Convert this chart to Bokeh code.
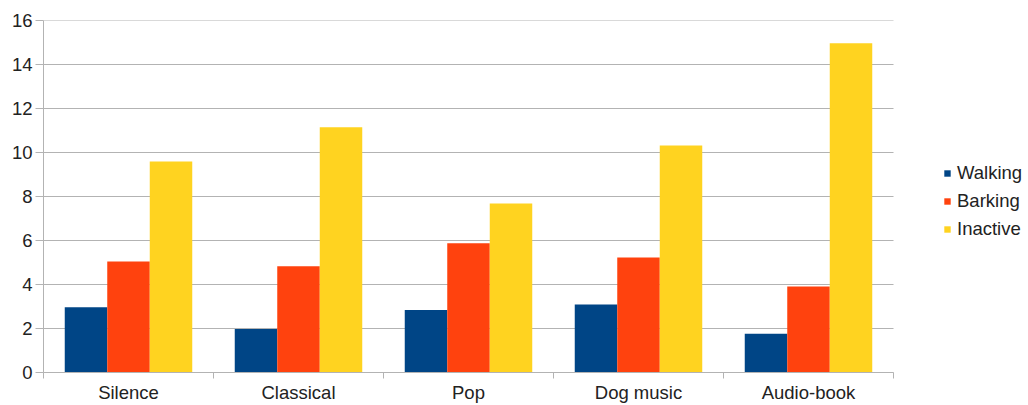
from bokeh.plotting import figure
from bokeh.models import ColumnDataSource, FixedTicker, Legend, LegendItem, Range1d
from bokeh.transform import dodge
from bokeh.embed import file_html
from bokeh.resources import INLINE

# Activity counts per sound condition
conditions = ["Silence", "Classical", "Pop", "Dog music", "Audio-book"]
walking = [2.97, 1.98, 2.84, 3.09, 1.76]
barking = [5.05, 4.83, 5.88, 5.23, 3.91]
inactive = [9.59, 11.15, 7.68, 10.32, 14.97]
y_ticks = [0, 2, 4, 6, 8, 10, 12, 14, 16]

series_names = ["Walking", "Barking", "Inactive"]
series_colors = ["#004586", "#ff420e", "#ffd320"]

FONT = "Liberation Sans"
GRID = "#b3b3b3"
TEXT = "#222222"

W, H = 1028, 405
LEFT, TOP, BOTTOM = 43, 20, 33
PLOT_W = 850            # width of the bar area; the rest of the frame holds the legend
n = len(conditions)
frame_w = W - LEFT
x_end = n * frame_w / PLOT_W

centers = [i + 0.5 for i in range(n)]
source = ColumnDataSource(dict(x=centers, Walking=walking, Barking=barking, Inactive=inactive))

p = figure(width=W, height=H, output_backend="svg", toolbar_location=None,
           x_range=Range1d(0, x_end), y_range=Range1d(0, 16),
           min_border_left=LEFT, min_border_right=0, min_border_top=TOP, min_border_bottom=BOTTOM)
p.outline_line_color = None
p.background_fill_color = "white"
p.border_fill_color = "white"

# horizontal grid lines limited to the category area
p.segment(x0=[0] * len(y_ticks), x1=[n] * len(y_ticks), y0=y_ticks, y1=y_ticks,
          line_color=GRID, line_width=1)

renderers = []
for name, color, off in zip(series_names, series_colors, [-0.25, 0.0, 0.25]):
    r = p.vbar(x=dodge("x", off, range=p.x_range), top=name, width=0.25, bottom=0,
               source=source, fill_color=color, line_color=None)
    renderers.append(r)

# x axis: labels centred under each group, tick marks at group boundaries
xa = p.xaxis[0]
xa.bounds = (0, n)
xa.ticker = FixedTicker(ticks=centers, minor_ticks=list(range(n + 1)))
xa.major_label_overrides = {c: lab for c, lab in zip(centers, conditions)}
xa.major_tick_line_color = None
xa.major_tick_out = 0
xa.major_tick_in = 0
xa.minor_tick_line_color = GRID
xa.minor_tick_out = 6
xa.minor_tick_in = 0
xa.axis_line_color = GRID
xa.major_label_standoff = 3
xa.major_label_text_font = FONT
xa.major_label_text_font_size = "18.5px"
xa.major_label_text_color = TEXT

ya = p.yaxis[0]
ya.ticker = FixedTicker(ticks=y_ticks)
ya.axis_line_color = GRID
ya.major_tick_line_color = GRID
ya.major_tick_out = 8
ya.major_tick_in = 0
ya.minor_tick_line_color = None
ya.major_label_standoff = 3
ya.major_label_text_font = FONT
ya.major_label_text_font_size = "18.5px"
ya.major_label_text_color = TEXT

p.xgrid.grid_line_color = None
p.ygrid.grid_line_color = None

legend = Legend(items=[LegendItem(label=s, renderers=[r]) for s, r in zip(series_names, renderers)],
                location=(900, 132), glyph_width=8, glyph_height=8, label_standoff=6,
                spacing=6, padding=0, margin=0, border_line_color=None,
                background_fill_alpha=0, label_text_font=FONT,
                label_text_font_size="18.5px", label_text_color=TEXT, label_height=20)
p.add_layout(legend, "center")

open("out.html", "w").write(file_html(p, INLINE))
